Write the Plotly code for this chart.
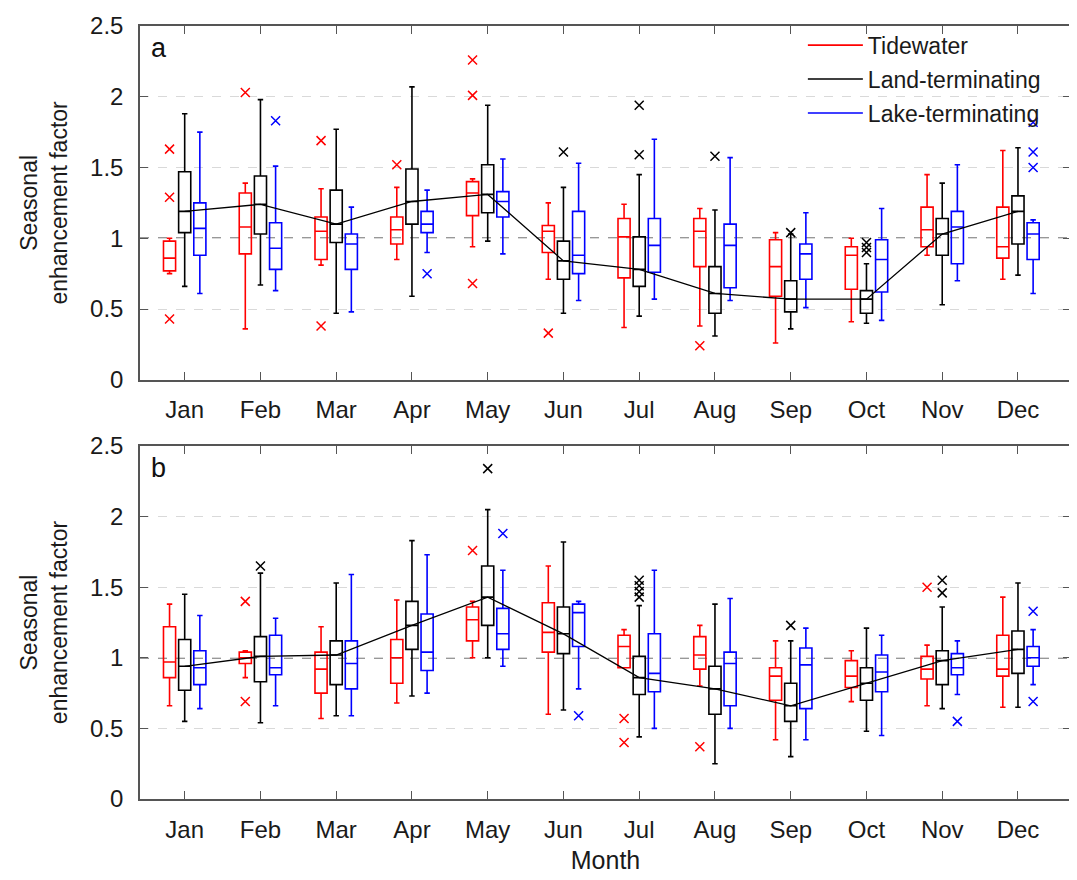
import plotly.graph_objects as go

months = ['Jan', 'Feb', 'Mar', 'Apr', 'May', 'Jun', 'Jul', 'Aug', 'Sep', 'Oct', 'Nov', 'Dec']
series_names = ['Tidewater', 'Land-terminating', 'Lake-terminating']

# ---------- Panel a ----------
a_tide_upper = [1.00, 1.39, 1.35, 1.36, 1.42, 1.25, 1.24, 1.21, 1.04, 1.00, 1.45, 1.62]
a_tide_q3    = [0.98, 1.32, 1.15, 1.15, 1.40, 1.09, 1.14, 1.14, 0.99, 0.94, 1.22, 1.22]
a_tide_med   = [0.86, 1.08, 1.05, 1.06, 1.32, 1.05, 1.01, 1.05, 0.80, 0.88, 1.06, 0.94]
a_tide_q1    = [0.77, 0.89, 0.85, 0.96, 1.16, 0.90, 0.72, 0.80, 0.59, 0.64, 0.94, 0.86]
a_tide_lower = [0.75, 0.36, 0.81, 0.85, 0.94, 0.71, 0.37, 0.38, 0.26, 0.41, 0.88, 0.71]

a_land_upper = [1.88, 1.98, 1.77, 2.07, 1.94, 1.36, 1.45, 1.20, 1.03, 0.82, 1.39, 1.64]
a_land_q3    = [1.47, 1.44, 1.34, 1.49, 1.52, 0.98, 1.01, 0.80, 0.70, 0.63, 1.14, 1.30]
a_land_med   = [1.19, 1.24, 1.10, 1.26, 1.31, 0.84, 0.78, 0.61, 0.57, 0.57, 1.03, 1.19]
a_land_q1    = [1.04, 1.03, 0.97, 1.10, 1.18, 0.71, 0.66, 0.47, 0.48, 0.47, 0.88, 0.96]
a_land_lower = [0.66, 0.67, 0.47, 0.59, 0.98, 0.47, 0.45, 0.31, 0.36, 0.40, 0.53, 0.74]

a_lake_upper = [1.75, 1.51, 1.22, 1.34, 1.56, 1.53, 1.70, 1.57, 1.18, 1.21, 1.52, 1.13]
a_lake_q3    = [1.25, 1.11, 1.03, 1.19, 1.33, 1.19, 1.14, 1.10, 0.96, 0.99, 1.19, 1.11]
a_lake_med   = [1.07, 0.93, 0.96, 1.10, 1.26, 0.88, 0.95, 0.95, 0.89, 0.85, 1.08, 1.03]
a_lake_q1    = [0.88, 0.78, 0.78, 1.04, 1.15, 0.75, 0.76, 0.65, 0.71, 0.62, 0.82, 0.85]
a_lake_lower = [0.61, 0.63, 0.48, 0.90, 0.89, 0.56, 0.57, 0.56, 0.51, 0.42, 0.70, 0.61]

a_tide_out_month = ['Jan', 'Jan', 'Jan', 'Feb', 'Mar', 'Mar', 'Apr', 'May', 'May', 'May', 'Jun', 'Aug']
a_tide_out_value = [1.63, 1.29, 0.43, 2.03, 1.69, 0.38, 1.52, 2.26, 2.01, 0.68, 0.33, 0.24]
a_land_out_month = ['Jun', 'Jul', 'Jul', 'Aug', 'Sep', 'Oct', 'Oct', 'Oct']
a_land_out_value = [1.61, 1.94, 1.59, 1.58, 1.04, 0.97, 0.935, 0.90]
a_lake_out_month = ['Feb', 'Apr', 'Dec', 'Dec', 'Dec']
a_lake_out_value = [1.83, 0.75, 1.82, 1.61, 1.50]

# ---------- Panel b ----------
b_tide_upper = [1.38, 1.05, 1.22, 1.41, 1.40, 1.65, 1.20, 1.23, 1.12, 1.05, 1.09, 1.43]
b_tide_q3    = [1.22, 1.04, 1.04, 1.13, 1.36, 1.39, 1.16, 1.15, 0.93, 0.98, 1.01, 1.16]
b_tide_med   = [0.97, 1.00, 0.92, 1.00, 1.27, 1.18, 1.08, 1.02, 0.87, 0.87, 0.92, 0.92]
b_tide_q1    = [0.86, 0.96, 0.75, 0.82, 1.12, 1.04, 0.93, 0.92, 0.70, 0.79, 0.85, 0.87]
b_tide_lower = [0.66, 0.86, 0.57, 0.68, 1.00, 0.60, 0.93, 0.80, 0.42, 0.69, 0.66, 0.65]

b_land_upper = [1.45, 1.60, 1.53, 1.83, 2.05, 1.82, 1.37, 1.38, 1.12, 1.21, 1.36, 1.53]
b_land_q3    = [1.13, 1.15, 1.12, 1.40, 1.65, 1.36, 1.01, 0.94, 0.82, 0.93, 1.05, 1.19]
b_land_med   = [0.94, 1.01, 1.02, 1.23, 1.43, 1.17, 0.86, 0.78, 0.66, 0.82, 0.98, 1.06]
b_land_q1    = [0.77, 0.83, 0.81, 1.06, 1.23, 1.03, 0.74, 0.60, 0.55, 0.70, 0.81, 0.89]
b_land_lower = [0.55, 0.54, 0.59, 0.73, 1.00, 0.63, 0.44, 0.25, 0.30, 0.48, 0.64, 0.65]

b_lake_upper = [1.30, 1.28, 1.59, 1.73, 1.62, 1.40, 1.62, 1.42, 1.21, 1.16, 1.12, 1.20]
b_lake_q3    = [1.05, 1.16, 1.12, 1.31, 1.35, 1.38, 1.17, 1.04, 1.07, 1.02, 1.03, 1.08]
b_lake_med   = [0.93, 0.93, 0.96, 1.04, 1.17, 1.32, 0.89, 0.96, 0.95, 0.90, 0.93, 1.00]
b_lake_q1    = [0.81, 0.88, 0.78, 0.91, 1.06, 1.08, 0.76, 0.66, 0.64, 0.76, 0.88, 0.94]
b_lake_lower = [0.64, 0.66, 0.59, 0.75, 0.94, 0.78, 0.50, 0.50, 0.42, 0.45, 0.74, 0.81]

b_tide_out_month = ['Feb', 'Feb', 'May', 'Jul', 'Jul', 'Aug', 'Nov']
b_tide_out_value = [1.40, 0.69, 1.76, 0.57, 0.40, 0.37, 1.50]
b_land_out_month = ['Feb', 'May', 'Jul', 'Jul', 'Jul', 'Jul', 'Sep', 'Nov', 'Nov']
b_land_out_value = [1.65, 2.34, 1.55, 1.51, 1.47, 1.43, 1.23, 1.55, 1.46]
b_lake_out_month = ['May', 'Jun', 'Nov', 'Dec', 'Dec']
b_lake_out_value = [1.88, 0.59, 0.55, 1.33, 0.69]

# ---------- styling ----------
COLORS = {'Tidewater': '#ff0000', 'Land-terminating': '#000000', 'Lake-terminating': '#0000ff'}
OFFSET = {'Tidewater': -0.2, 'Land-terminating': 0.0, 'Lake-terminating': 0.2}
BOX_W = 0.16
FONT = 'Liberation Sans, Arial, sans-serif'
month_pos = {m: i + 1 for i, m in enumerate(months)}

fig = go.Figure()

panels = [
    ('x', 'y', {
        'Tidewater': (a_tide_lower, a_tide_q1, a_tide_med, a_tide_q3, a_tide_upper, a_tide_out_month, a_tide_out_value),
        'Land-terminating': (a_land_lower, a_land_q1, a_land_med, a_land_q3, a_land_upper, a_land_out_month, a_land_out_value),
        'Lake-terminating': (a_lake_lower, a_lake_q1, a_lake_med, a_lake_q3, a_lake_upper, a_lake_out_month, a_lake_out_value),
    }),
    ('x2', 'y2', {
        'Tidewater': (b_tide_lower, b_tide_q1, b_tide_med, b_tide_q3, b_tide_upper, b_tide_out_month, b_tide_out_value),
        'Land-terminating': (b_land_lower, b_land_q1, b_land_med, b_land_q3, b_land_upper, b_land_out_month, b_land_out_value),
        'Lake-terminating': (b_lake_lower, b_lake_q1, b_lake_med, b_lake_q3, b_lake_upper, b_lake_out_month, b_lake_out_value),
    }),
]

for xa, ya, data in panels:
    for name in series_names:
        lo, q1, med, q3, up, om, ov = data[name]
        col = COLORS[name]
        xs = [month_pos[m] + OFFSET[name] for m in months]
        fig.add_trace(go.Box(
            x=xs, q1=q1, median=med, q3=q3, lowerfence=lo, upperfence=up,
            width=BOX_W, whiskerwidth=0.45, boxpoints=False,
            line=dict(color=col, width=1.6), fillcolor='rgba(0,0,0,0)',
            showlegend=False, xaxis=xa, yaxis=ya, name=name,
        ))
        fig.add_trace(go.Scatter(
            x=[month_pos[m] + OFFSET[name] for m in om], y=ov, mode='markers',
            marker=dict(symbol='x-thin', size=9, line=dict(color=col, width=1.5)),
            showlegend=False, xaxis=xa, yaxis=ya, hoverinfo='skip',
        ))
    # median connecting line of land-terminating
    fig.add_trace(go.Scatter(
        x=[month_pos[m] for m in months], y=data['Land-terminating'][2], mode='lines',
        line=dict(color='black', width=1.3), showlegend=False, xaxis=xa, yaxis=ya,
    ))

# legend entries (line samples)
for name in series_names:
    fig.add_trace(go.Scatter(
        x=[None], y=[None], mode='lines', name=name, legendgroup=name,
        line=dict(color=COLORS[name], width=1.6), xaxis='x', yaxis='y',
    ))

axis_common_x = dict(
    range=[0.41, 12.7], tickmode='array', tickvals=list(range(1, 13)), ticktext=months,
    ticks='inside', ticklen=8, tickcolor='#555', tickwidth=1.2,
    showline=True, linecolor='#555', linewidth=1.5, mirror='ticks',
    showgrid=False, zeroline=False, ticklabelstandoff=8,
    tickfont=dict(family=FONT, size=24, color='#1a1a1a'),
)
axis_common_y = dict(
    range=[0, 2.5], dtick=0.5, tick0=0,
    ticks='inside', ticklen=8, tickcolor='#555', tickwidth=1.2,
    showline=True, linecolor='#555', linewidth=1.5, mirror='ticks',
    showgrid=True, gridcolor='#d9d9d9', griddash='dash', gridwidth=1.2,
    zeroline=False, ticklabelstandoff=10,
    tickfont=dict(family=FONT, size=24, color='#1a1a1a'),
    title=dict(text='Seasonal<br>enhancement factor', font=dict(family=FONT, size=23, color='#1a1a1a'), standoff=16),
)

# page body has an 8px default margin; the figure is sized to fit the 1077x880 window
fig.update_layout(
    width=1069, height=872,
    margin=dict(l=132, r=4, t=12, b=81),
    paper_bgcolor='white', plot_bgcolor='white',
    boxmode='overlay',
    font=dict(family=FONT, color='#1a1a1a'),
    xaxis=dict(axis_common_x, domain=[0, 1], anchor='y'),
    yaxis=dict(axis_common_y, domain=[0.5423, 1.0], anchor='x'),
    xaxis2=dict(axis_common_x, domain=[0, 1], anchor='y2',
                title=dict(text='Month', font=dict(family=FONT, size=25, color='#1a1a1a'), standoff=10)),
    yaxis2=dict(axis_common_y, domain=[0, 0.4566], anchor='x2'),
    legend=dict(x=0.712, y=1.003, xanchor='left', yanchor='top',
                bgcolor='rgba(0,0,0,0)', borderwidth=0,
                font=dict(family=FONT, size=23, color='#1a1a1a'),
                traceorder='grouped', tracegroupgap=1, itemwidth=55),
    showlegend=True,
    shapes=[
        dict(type='line', xref='x domain', yref='y', x0=0, x1=1, y0=1, y1=1,
             line=dict(color='#333', width=1.5, dash='dash'), layer='below'),
        dict(type='line', xref='x2 domain', yref='y2', x0=0, x1=1, y0=1, y1=1,
             line=dict(color='#333', width=1.5, dash='dash'), layer='below'),
    ],
    annotations=[
        dict(text='a', xref='x domain', yref='y domain', x=0.01, y=0.985, xanchor='left', yanchor='top',
             showarrow=False, font=dict(family=FONT, size=27, color='#111')),
        dict(text='b', xref='x2 domain', yref='y2 domain', x=0.01, y=0.985, xanchor='left', yanchor='top',
             showarrow=False, font=dict(family=FONT, size=27, color='#111')),
    ],
)

fig.write_html('out.html')
